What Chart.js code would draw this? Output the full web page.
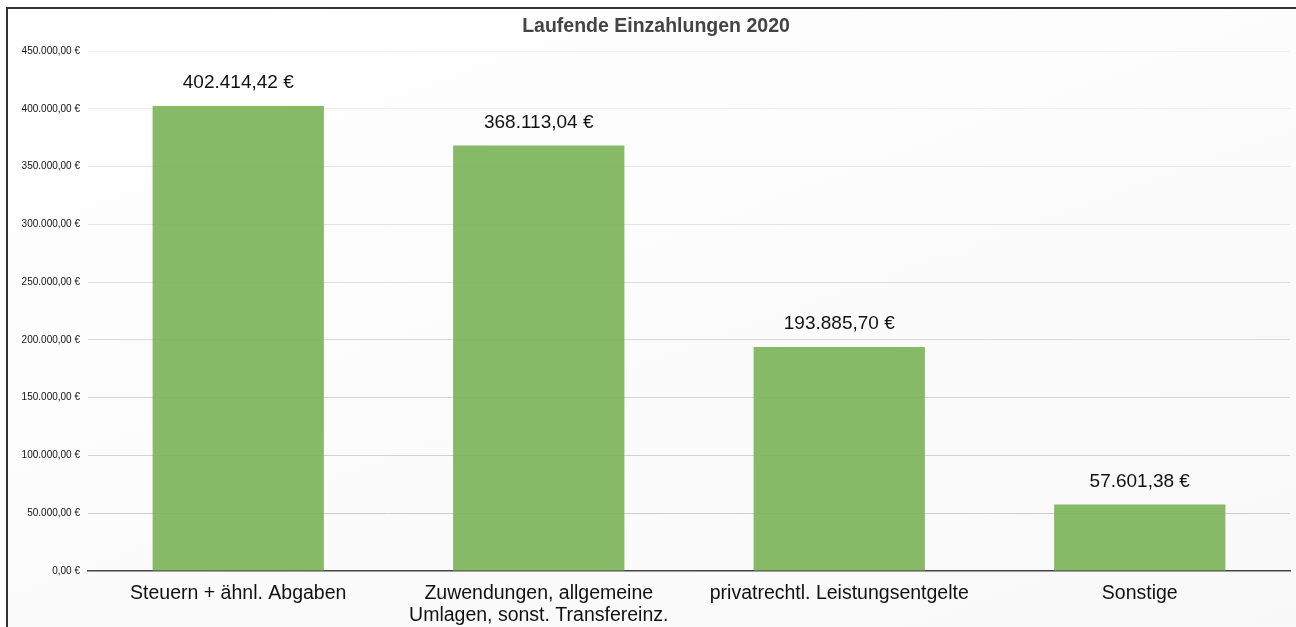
<!DOCTYPE html>
<html>
<head>
<meta charset="utf-8">
<script src="https://cdn.jsdelivr.net/npm/chart.js@4.4.1/dist/chart.umd.min.js"></script>
<style>
  html, body { margin: 0; padding: 0; background: #fff; overflow: hidden; }
  #frame {
    position: absolute; left: 6px; top: 7px; width: 1310px; height: 640px;
    border: 2px solid #333;
    background: linear-gradient(160deg, #ffffff 0%, #f8f8f8 100%);
  }
  #wrap { position: absolute; left: 0; top: 0; width: 1296px; height: 627px; }
</style>
</head>
<body>
<div id="frame"></div>
<div id="wrap"><canvas id="chart" width="1296" height="627"></canvas></div>
<script>
const categories = [
  "Steuern + ähnl. Abgaben",
  ["Zuwendungen, allgemeine", "Umlagen, sonst. Transfereinz."],
  "privatrechtl. Leistungsentgelte",
  "Sonstige"
];
const values = [402414.42, 368113.04, 193885.70, 57601.38];
const chartTitle = "Laufende Einzahlungen 2020";

// German currency format: 402.414,42 €
const formatEuro = (v) => {
  const parts = Math.abs(v).toFixed(2).split(".");
  const int = parts[0].replace(/\B(?=(\d{3})+(?!\d))/g, ".");
  return (v < 0 ? "-" : "") + int + "," + parts[1] + " €";
};

// Draws the value above each bar
const valueLabels = {
  id: "valueLabels",
  afterDatasetsDraw(chart) {
    const ctx = chart.ctx;
    const meta = chart.getDatasetMeta(0);
    ctx.save();
    ctx.font = "19px 'Liberation Sans', Arial, sans-serif";
    ctx.fillStyle = "#111";
    ctx.textAlign = "center";
    ctx.textBaseline = "middle";
    meta.data.forEach((bar, i) => {
      ctx.fillText(formatEuro(values[i]), bar.x, bar.y - 23);
    });
    ctx.restore();
  }
};

// Title centred on the bordered frame rather than on the canvas
const frameTitle = {
  id: "frameTitle",
  afterDraw(chart) {
    const ctx = chart.ctx;
    ctx.save();
    ctx.font = "bold 19.5px 'Liberation Sans', Arial, sans-serif";
    ctx.fillStyle = "#444";
    ctx.textAlign = "center";
    ctx.textBaseline = "middle";
    ctx.fillText(chartTitle, 656, 27);
    ctx.restore();
  }
};

new Chart(document.getElementById("chart").getContext("2d"), {
  type: "bar",
  data: {
    labels: categories,
    datasets: [{
      label: chartTitle,
      data: values,
      backgroundColor: "rgba(125,180,90,0.92)",
      categoryPercentage: 1,
      barPercentage: 0.57
    }]
  },
  options: {
    responsive: false,
    animation: false,
    devicePixelRatio: 1,
    layout: { padding: { left: 0, right: 6, top: 51, bottom: 0 } },
    plugins: {
      legend: { display: false },
      tooltip: { enabled: false },
      title: { display: false }
    },
    scales: {
      x: {
        grid: { display: false, drawTicks: false },
        border: { display: true, color: "#444", width: 1.5 },
        ticks: {
          color: "#111",
          font: { family: "'Liberation Sans', Arial, sans-serif", size: 19.5, lineHeight: 1.1 },
          padding: 12,
          maxRotation: 0,
          autoSkip: false
        },
        afterFit(scale) { scale.height = 56; }
      },
      y: {
        min: 0,
        max: 450000,
        grid: {
          drawTicks: false,
          color: (c) => {
            if (!c.tick) return "#eee";
            if (c.tick.value === 0) return "rgba(0,0,0,0)";
            const t = c.tick.value / 450000;
            const g = Math.round(200 + 40 * t);
            return `rgb(${g},${g},${g})`;
          },
          lineWidth: 1
        },
        border: { display: false },
        ticks: {
          stepSize: 50000,
          color: "#111",
          font: { family: "'Liberation Sans', Arial, sans-serif", size: 10 },
          padding: 8,
          callback: (v) => formatEuro(v)
        },
        afterFit(scale) { scale.width = 88; }
      }
    }
  },
  plugins: [valueLabels, frameTitle]
});
</script>
</body>
</html>
